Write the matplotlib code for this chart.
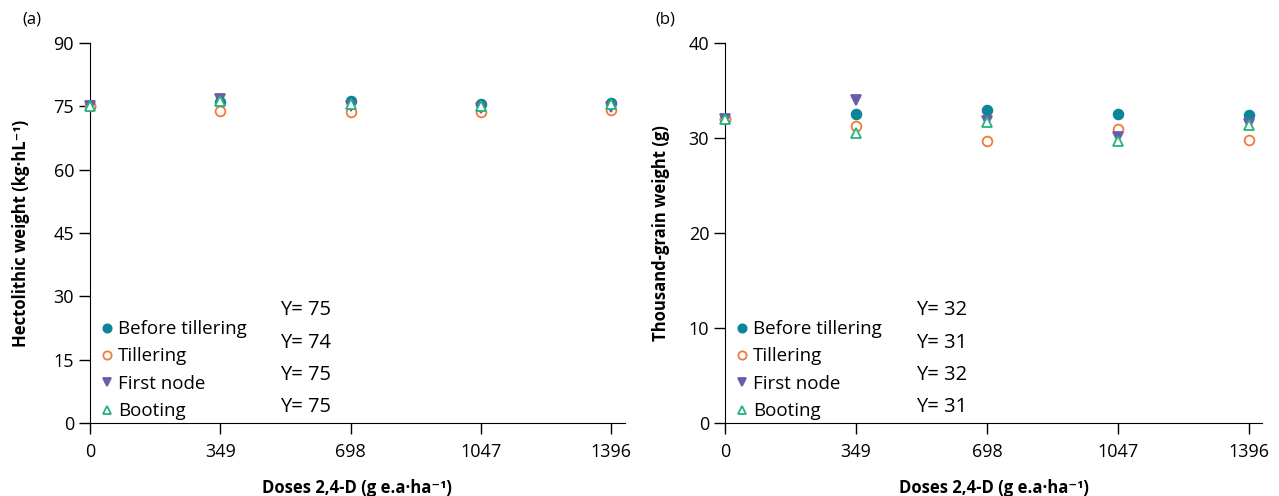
import numpy as np
import matplotlib
matplotlib.use('Agg')
from matplotlib import pyplot as plt

plt.rcParams['font.family'] = ['Open Sans', 'DejaVu Sans']

doses = [0, 349, 698, 1047, 1396]
stages = ['Before tillering', 'Tillering', 'First node', 'Booting']

# hectolitric weight (kg/hL)
hw_before = [75.0, 76.0, 76.2, 75.6, 75.9]
hw_tiller = [75.0, 74.0, 73.6, 73.6, 74.1]
hw_first = [75.0, 76.8, 75.0, 74.6, 74.9]
hw_boot = [75.0, 76.2, 75.6, 75.2, 75.7]
hw_eq = ['Y= 75', 'Y= 74', 'Y= 75', 'Y= 75']

# thousand-grain weight (g)
tg_before = [32.0, 32.5, 33.0, 32.5, 32.4]
tg_tiller = [32.0, 31.3, 29.7, 31.0, 29.8]
tg_first = [32.0, 34.0, 31.8, 30.1, 31.5]
tg_boot = [32.0, 30.5, 31.7, 29.7, 31.4]
tg_eq = ['Y= 32', 'Y= 31', 'Y= 32', 'Y= 31']

colors = ['#0b8696', '#f37a36', '#6a5ca8', '#22b47e']
markers = ['o', 'o', 'v', '^']
filled = [True, False, True, False]

fig = plt.figure(figsize=(12.79, 4.96), dpi=100)
ax1 = fig.add_axes([0.0704, 0.147, 0.418, 0.766])
ax2 = fig.add_axes([0.567, 0.147, 0.420, 0.766])

SUP = '\u207b\u00b9'


def panel(ax, series, eqs, ylim, yticks, ylabel):
    for vals, c, m, f, name in zip(series, colors, markers, filled, stages):
        ax.plot(doses, vals, linestyle='none', marker=m, markersize=7,
                markerfacecolor=c if f else 'white', markeredgecolor=c,
                markeredgewidth=1.3, label=name, clip_on=False, zorder=3)
    ax.set_xlim(0, 1432)
    ax.set_ylim(*ylim)
    ax.set_xticks(doses)
    ax.set_yticks(yticks)
    for s in ['top', 'right']:
        ax.spines[s].set_visible(False)
    ax.tick_params(labelsize=13, length=8, width=1)
    ax.tick_params(axis='x', pad=6)
    ax.set_xlabel('Doses 2,4-D (g e.a·ha' + SUP + ')', fontsize=12,
                  fontweight='bold', labelpad=13)
    ax.set_ylabel(ylabel, fontsize=12, fontweight='bold')
    ax.legend(loc='lower left', bbox_to_anchor=(0.0, -0.022), frameon=False,
              fontsize=13.5, handlelength=0.6, handletextpad=0.3,
              labelspacing=0.5, borderaxespad=0.2, markerscale=0.85)
    for i, t in enumerate(eqs):
        ax.text(0.355, 0.297 - i * 0.085, t, transform=ax.transAxes,
                fontsize=14.5, va='center')


panel(ax1, [hw_before, hw_tiller, hw_first, hw_boot], hw_eq, (0, 90),
      [0, 15, 30, 45, 60, 75, 90], 'Hectolithic weight (kg·hL' + SUP + ')')
panel(ax2, [tg_before, tg_tiller, tg_first, tg_boot], tg_eq, (0, 40),
      [0, 10, 20, 30, 40], 'Thousand-grain weight (g)')

ax1.yaxis.set_label_coords(-0.112, 0.5)
ax2.yaxis.set_label_coords(-0.102, 0.5)

fig.text(22 / 1279, 1 - 19 / 496, '(a)', fontsize=12, va='center')
fig.text(655 / 1279, 1 - 19 / 496, '(b)', fontsize=12, va='center')

fig.savefig('out.png', dpi=100)
